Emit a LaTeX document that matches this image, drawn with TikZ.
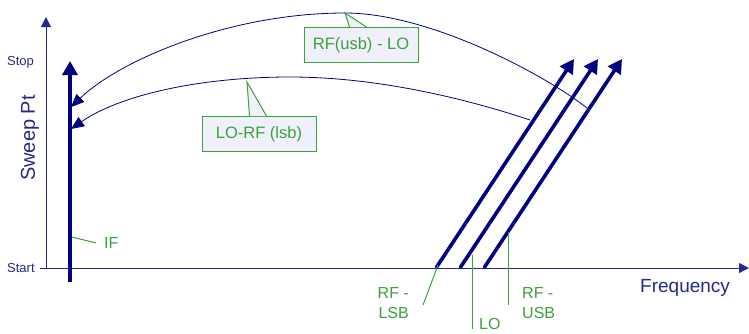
\documentclass[tikz,border=0pt]{standalone}
\usepackage{fontspec}
\setmainfont{Liberation Sans}
\usetikzlibrary{arrows.meta,calc}
\definecolor{navy}{RGB}{0,0,128}
\definecolor{axisblue}{RGB}{40,40,140}
\definecolor{lblgreen}{RGB}{60,160,60}
\definecolor{boxfill}{RGB}{240,240,250}
\begin{document}
\begin{tikzpicture}[x=1pt,y=-1pt,
  axis/.style={axisblue,line width=1pt,-{Triangle[length=10pt,width=10pt]}},
  sweep/.style={navy,line width=3.6pt,-{Triangle[length=14pt,width=15pt]}},
  img/.style={navy,line width=0.8pt,-{Triangle[length=13pt,width=11pt]}},
  callout/.style={draw=lblgreen,fill=boxfill,text=lblgreen,line width=1pt,font=\fontsize{16.5}{19}\selectfont,minimum width=114pt,minimum height=35pt,inner sep=2pt},
  lead/.style={lblgreen,line width=1pt},
  glabel/.style={text=lblgreen,font=\fontsize{16}{19.5}\selectfont,inner sep=0pt},
  axlabel/.style={text=axisblue,font=\fontsize{13}{15}\selectfont,inner sep=0pt}]
\useasboundingbox (0,0) rectangle (749,333);
% axes
\coordinate (o) at (46,268);
\coordinate (ytop) at (46,17);
\coordinate (xstart) at (40,268);
\coordinate (xend) at (749,268);
\draw[axis] (o) -- (ytop);
\draw[axis] (xstart) -- (xend);
\node[axlabel,anchor=base west] (stop) at (7,65) {Stop};
\node[axlabel,anchor=base west] (start) at (7,272) {Start};
\node[text=axisblue,font=\fontsize{20}{24}\selectfont,rotate=90,inner sep=0pt] (sweeppt) at (30,138) {Sweep Pt};
\node[text=axisblue,font=\fontsize{19}{22}\selectfont,inner sep=0pt,anchor=base west] (freq) at (640,292) {Frequency};
% IF line
\coordinate (if0) at (70,282);
\coordinate (if1) at (70,61);
\draw[sweep] (if0) -- (if1);
% diagonal sweeps
\coordinate (l0) at (436,268); \coordinate (l1) at (574,59);
\coordinate (m0) at (460,268); \coordinate (m1) at (598,59);
\coordinate (u0) at (484,268); \coordinate (u1) at (622,59);
\draw[sweep] (l0) -- (l1);
\draw[sweep] (m0) -- (m1);
\draw[sweep] (u0) -- (u1);
% image curves
\coordinate (ua) at (587,108);
\coordinate (upk) at (345,13);
\coordinate (ub) at (71,107);
\coordinate (la) at (530,120);
\coordinate (lpk) at (290,77);
\coordinate (lb) at (71,129);
\draw[img] (ua) .. controls (545,75) and (430,13) .. (upk) .. controls (230,13) and (120,60) .. (ub);
\draw[img] (la) .. controls (470,100) and (380,77) .. (lpk) .. controls (200,77) and (120,95) .. (lb);
% callouts
\node[callout] (usb) at (361,45) {RF(usb) - LO};
\node[callout] (lsb) at (259,134) {LO-RF (lsb)};
\coordinate (usbp) at (345,13);
\coordinate (lsbp) at (247,82);
\draw[lblgreen,line width=1pt,fill=boxfill] ($(usb.north west)+(46,0)$) -- (usbp) -- ($(usb.north west)+(63,0)$);
\draw[lblgreen,line width=1pt,fill=boxfill] ($(lsb.north west)+(48,0)$) -- (lsbp) -- ($(lsb.north west)+(65,0)$);
% green labels
\coordinate (ifp) at (72,237);
\coordinate (ifq) at (96,243);
\draw[lead] (ifp) -- (ifq);
\node[glabel,anchor=west] (iflbl) at (104,242.5) {IF};
\coordinate (lsbl0) at (438,265);
\coordinate (lsbl1) at (423,305);
\draw[lead] (lsbl0) -- (lsbl1);
\node[glabel,anchor=north east,align=right] (rflsb) at (409,287.5) {RF -\\LSB};
\coordinate (lo0) at (472,255);
\coordinate (lo1) at (472,329);
\draw[lead] (lo0) -- (lo1);
\node[glabel,anchor=north west] (lolbl) at (479,318) {LO};
\coordinate (usbl0) at (508,232);
\coordinate (usbl1) at (508,305);
\draw[lead] (usbl0) -- (usbl1);
\node[glabel,anchor=north west,align=left] (rfusb) at (522,287.5) {RF -\\USB};
\end{tikzpicture}
\end{document}
